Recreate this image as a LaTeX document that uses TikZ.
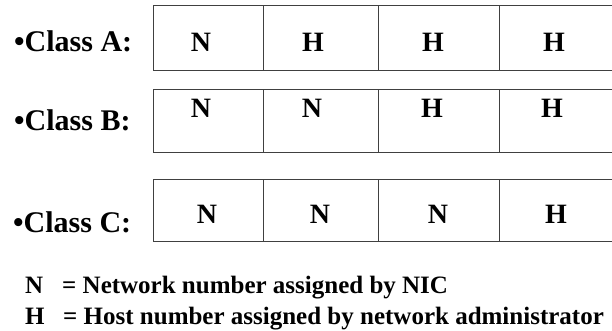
\documentclass[tikz,border=0pt]{standalone}
\usepackage{fontspec}
\setmainfont{Liberation Serif}
\tikzset{
  cell/.style={draw=black!75, line width=0.9pt, rectangle, inner sep=0pt},
  cellletter/.style={anchor=base, inner sep=0pt, font=\fontsize{28}{30}\selectfont\bfseries},
  classlabel/.style={anchor=base west, inner sep=0pt, font=\fontsize{30}{32}\selectfont\bfseries},
  legend/.style={anchor=base west, inner sep=0pt, font=\fontsize{25}{27}\selectfont\bfseries}
}
\begin{document}
\begin{tikzpicture}[x=1pt,y=-1pt]
\useasboundingbox (0,0) rectangle (612,331);
\clip (0,0) rectangle (612,331);
% Class A
\node[classlabel] (la) at (14,52) {•Class A:};
\node[cell, minimum width=110pt, minimum height=65pt] (a1) at (208,37.5) {};
\node[cell, minimum width=115pt, minimum height=65pt] (a2) at (320.5,37.5) {};
\node[cell, minimum width=121pt, minimum height=65pt] (a3) at (438.5,37.5) {};
\node[cell, minimum width=141pt, minimum height=65pt] (a4) at (569.5,37.5) {};
\node[cellletter] (ta1) at (201,52) {N};
\node[cellletter] (ta2) at (313,52) {H};
\node[cellletter] (ta3) at (433,52) {H};
\node[cellletter] (ta4) at (554,52) {H};
% Class B
\node[classlabel] (lb) at (14,130.5) {•Class B:};
\node[cell, minimum width=110pt, minimum height=63pt] (b1) at (208,120.5) {};
\node[cell, minimum width=115pt, minimum height=63pt] (b2) at (320.5,120.5) {};
\node[cell, minimum width=121pt, minimum height=63pt] (b3) at (438.5,120.5) {};
\node[cell, minimum width=141pt, minimum height=63pt] (b4) at (569.5,120.5) {};
\node[cellletter] (tb1) at (201,118) {N};
\node[cellletter] (tb2) at (312,118) {N};
\node[cellletter] (tb3) at (432,118) {H};
\node[cellletter] (tb4) at (552,118) {H};
% Class C
\node[classlabel] (lc) at (13,232) {•Class C:};
\node[cell, minimum width=110pt, minimum height=62pt] (c1) at (208,210) {};
\node[cell, minimum width=115pt, minimum height=62pt] (c2) at (320.5,210) {};
\node[cell, minimum width=121pt, minimum height=62pt] (c3) at (438.5,210) {};
\node[cell, minimum width=141pt, minimum height=62pt] (c4) at (569.5,210) {};
\node[cellletter] (tc1) at (207,223) {N};
\node[cellletter] (tc2) at (320,223) {N};
\node[cellletter] (tc3) at (438,223) {N};
\node[cellletter] (tc4) at (556,223) {H};
% Legend
\node[legend] (ln) at (25,293) {N};
\node[legend] (lnt) at (62,293) {= Network number assigned by NIC};
\node[legend] (lh) at (25,324) {H};
\node[legend] (lht) at (63,324) {= Host number assigned by network administrator};
\end{tikzpicture}
\end{document}
